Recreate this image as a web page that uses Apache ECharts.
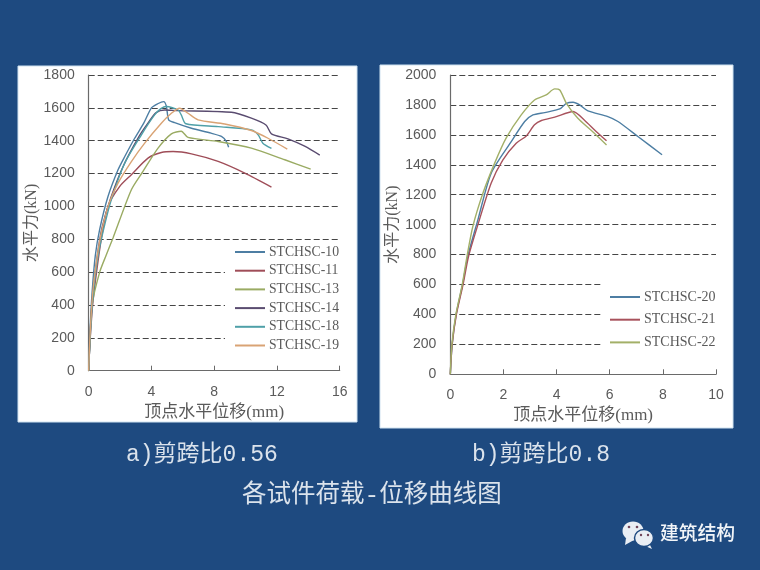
<!DOCTYPE html>
<html>
<head>
<meta charset="utf-8">
<style>html,body{margin:0;padding:0;background:#1e4a80}#c{width:760px;height:570px}</style>
<script src="https://cdn.jsdelivr.net/npm/echarts@6/dist/echarts.min.js"></script>
</head>
<body>
<div id="c"></div>
<script>
const s10 = [[0,0],[0.04,120],[0.1,280],[0.22,480],[0.42,700],[0.7,860],[1.23,1060],[1.87,1223],[2.3,1304],[2.93,1415],[3.5,1505],[4.0,1600],[4.4,1625],[4.78,1638],[4.95,1610],[5.1,1527],[5.48,1510],[6.55,1476],[7.8,1446],[8.46,1426],[8.78,1395],[8.92,1360]];
const s11 = [[0,0],[0.04,100],[0.1,200],[0.25,400],[0.5,600],[0.8,800],[1.23,1000],[1.98,1122],[2.72,1193],[3.78,1294],[4.63,1328],[5.38,1334],[6.55,1320],[8.25,1274],[9.95,1203],[11.65,1118]];
const s13 = [[0,0],[0.04,100],[0.1,230],[0.21,400],[0.7,600],[1.1,700],[1.55,808],[2.72,1102],[3.46,1213],[4.42,1355],[5.27,1442],[5.9,1458],[6.33,1420],[8.25,1395],[10.37,1355],[12.5,1284],[14.15,1227]];
const s14 = [[0,0],[0.05,120],[0.12,280],[0.28,480],[0.55,700],[0.85,870],[1.4,1050],[2.2,1245],[3.2,1425],[3.8,1510],[4.3,1571],[4.85,1587],[5.7,1583],[9.1,1573],[10.37,1537],[11.3,1496],[11.65,1442],[12.7,1411],[13.8,1365],[14.73,1312]];
const s18 = [[0,0],[0.05,120],[0.14,280],[0.3,480],[0.6,700],[0.95,860],[1.44,1040],[2.3,1264],[3.36,1436],[4.2,1557],[4.6,1595],[4.95,1608],[5.7,1587],[5.9,1557],[6.2,1503],[8.25,1486],[10.37,1466],[10.8,1436],[11.1,1385],[11.65,1353]];
const s19 = [[0,0],[0.04,120],[0.12,280],[0.26,480],[0.55,700],[0.85,860],[1.3,1020],[1.87,1142],[2.7,1270],[3.57,1385],[4.63,1506],[5.27,1567],[5.8,1598],[6.33,1567],[6.97,1527],[8.67,1502],[10.37,1462],[11.43,1415],[12.66,1349]];
const s20 = [[0,0],[0.07,200],[0.22,400],[0.46,600],[0.66,790],[1.04,1033],[1.54,1344],[2.3,1556],[2.8,1689],[3.11,1733],[3.55,1749],[4.12,1773],[4.37,1811],[4.62,1818],[4.87,1800],[5.18,1760],[5.93,1722],[6.31,1689],[7.06,1589],[7.97,1467]];
const s21 = [[0,0],[0.07,200],[0.23,400],[0.48,600],[0.69,790],[1.04,1000],[1.54,1278],[1.98,1433],[2.48,1544],[2.86,1593],[3.17,1667],[3.43,1696],[3.93,1718],[4.62,1756],[5.06,1696],[5.43,1633],[5.88,1560]];
const s22 = [[0,0],[0.06,200],[0.21,400],[0.45,600],[0.63,790],[0.85,989],[1.23,1211],[1.67,1411],[2.1,1578],[2.67,1733],[3.17,1833],[3.61,1867],[3.93,1907],[4.12,1900],[4.37,1811],[4.8,1711],[5.31,1629],[5.88,1533]];
const seriesLeft = [['STCHSC-10',s10,'#4d7ea3'],['STCHSC-11',s11,'#9f4d58'],['STCHSC-13',s13,'#9aab63'],['STCHSC-14',s14,'#5a4c70'],['STCHSC-18',s18,'#4fa0a8'],['STCHSC-19',s19,'#d9a374']];
const seriesRight = [['STCHSC-20',s20,'#4d7ea3'],['STCHSC-21',s21,'#a8525c'],['STCHSC-22',s22,'#a3b068']];
const xLeftMax = 16, xLeftStep = 4, yLeftMax = 1800, xRightMax = 10, xRightStep = 2, yRightMax = 2000, yStep = 200;
const xName = '顶点水平位移(mm)', yName = '水平力(kN)';
const captionA = 'a)剪跨比0.56', captionB = 'b)剪跨比0.8', caption = '各试件荷载-位移曲线图', mark = '建筑结构';

const serif = '"Liberation Serif","Noto Sans CJK SC",serif';
const mono = '"Liberation Mono","Noto Sans CJK SC",monospace';
const sans = '"Liberation Sans","Noto Sans CJK SC",sans-serif';
const grey = '#5a5a5a';
function xAxis(i, max, step, gap, mg){return {gridIndex:i,type:'value',min:0,max:max,interval:step,name:xName,nameLocation:'middle',nameGap:gap,
  nameTextStyle:{fontFamily:serif,fontSize:17,color:grey},
  axisLine:{show:true,onZero:false,lineStyle:{color:'#6a6a6a',width:1.2}},axisTick:{show:true,inside:true,length:5,lineStyle:{color:'#6a6a6a'}},
  axisLabel:{fontFamily:sans,fontSize:14,color:grey,margin:mg,formatter:v=>String(v)},splitLine:{show:false}};}
function yAxis(i, max, gap){return {gridIndex:i,type:'value',min:0,max:max,interval:yStep,name:yName,nameLocation:'middle',nameGap:gap,nameRotate:90,
  nameTextStyle:{fontFamily:serif,fontSize:16,color:grey},
  axisLine:{show:true,onZero:false,lineStyle:{color:'#6a6a6a',width:1.2}},axisTick:{show:false},
  axisLabel:{fontFamily:sans,fontSize:14,color:grey,margin:14,formatter:v=>String(v)},
  splitLine:{show:true,lineStyle:{type:[6,3],color:'#454545',width:1.2}}};}
function lines(list,i){return list.map(d=>({type:'line',name:d[0],data:d[1],xAxisIndex:i,yAxisIndex:i,showSymbol:false,symbol:'none',smooth:0.25,
  lineStyle:{color:d[2],width:1.4},itemStyle:{color:d[2]},emphasis:{disabled:true},animation:false}));}
function legend(list,left,top,pad,gap,fs){return {orient:'vertical',left:left,top:top,padding:pad,itemGap:gap,itemWidth:30,itemHeight:2,icon:'rect',
  backgroundColor:'#ffffff',selectedMode:false,data:list.map(d=>d[0]),textStyle:{fontFamily:serif,fontSize:fs,color:grey,lineHeight:14,padding:[0,0,0,-1]}};}
function txt(x,y,t,size,fam,col,w){return {type:'text',z:5,style:{x:x,y:y,text:t,font:(w||'normal')+' '+size+'px '+fam,fill:col,textVerticalAlign:'middle',verticalAlign:'middle'}};}
const bub='#e9eef4', bg='#1e4a80';
const chart = echarts.init(document.getElementById('c'),null,{renderer:'canvas'});
chart.setOption({
  backgroundColor:bg,
  animation:false,
  grid:[{left:88.7,top:75,width:251,height:295.7},{left:450.3,top:75,width:265.7,height:299.3}],
  xAxis:[xAxis(0,xLeftMax,xLeftStep,33,14),xAxis(1,xRightMax,xRightStep,33,14)],
  yAxis:[yAxis(0,yLeftMax,47),yAxis(1,yRightMax,46)],
  legend:[legend(seriesLeft,225,243,[2,1,3,10],4.7,13.7),legend(seriesRight,603,280,[10,2,3,7],8.7,14)],
  series:[...lines(seriesLeft,0),...lines(seriesRight,1)],
  graphic:{elements:[
    {type:'rect',z:-10,shape:{x:18,y:66,width:339,height:356},style:{fill:'#ffffff',stroke:'#cfe2f0',lineWidth:1}},
    {type:'rect',z:-10,shape:{x:380,y:65,width:353,height:363},style:{fill:'#ffffff',stroke:'#cfe2f0',lineWidth:1}},
    txt(126,455,captionA,23,mono,'#dbe3ec'),
    txt(472,455,captionB,23,mono,'#dbe3ec'),
    txt(242,496,caption,24.5,mono,'#dbe3ec'),
    {type:'polygon',z:5,shape:{points:[[626,538],[625,545],[634,540]]},style:{fill:bub}},
    {type:'ellipse',z:5,shape:{cx:633,cy:531,rx:10.5,ry:9.5},style:{fill:bub}},
    {type:'circle',z:5,shape:{cx:629,cy:527,r:1.3},style:{fill:'#70455a'}},
    {type:'circle',z:5,shape:{cx:637,cy:527,r:1.3},style:{fill:'#70455a'}},
    {type:'polygon',z:6,shape:{points:[[649,543],[652,549],[643,545]]},style:{fill:bub}},
    {type:'ellipse',z:6,shape:{cx:644,cy:538,rx:9.5,ry:8.5},style:{fill:bub,stroke:bg,lineWidth:1.5}},
    {type:'circle',z:7,shape:{cx:641,cy:535,r:1.2},style:{fill:'#70455a'}},
    {type:'circle',z:7,shape:{cx:648,cy:535,r:1.2},style:{fill:'#70455a'}},
    txt(660,535,mark,18.8,sans,'#f2f5f8','500')
  ]}
});
</script>
</body>
</html>
